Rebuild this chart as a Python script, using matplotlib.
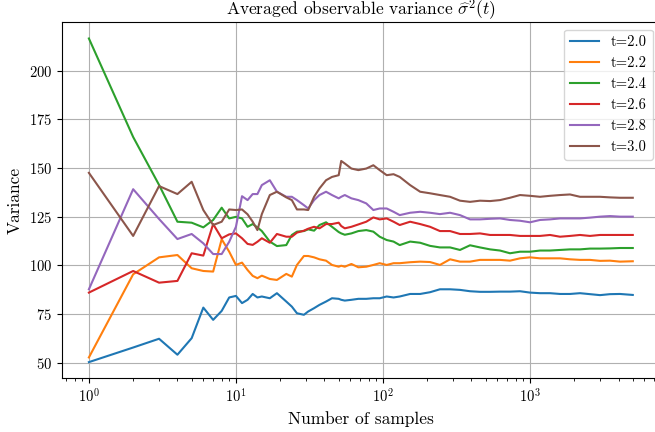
import matplotlib
matplotlib.use("Agg")
import matplotlib.pyplot as plt

plt.rcParams.update({
    "font.family": "serif",
    "font.serif": ["cmr10", "DejaVu Serif"],
    "mathtext.fontset": "cm",
    "axes.formatter.use_mathtext": True,
    "font.size": 10,
})

# number of samples (x positions, log scale)
samples = [1, 2, 3, 4, 5, 6, 7, 8, 9, 10, 11, 12, 13, 14,
           15, 17, 19, 22, 24, 26, 29, 31, 34, 37, 41, 45, 50, 52, 55, 61,
           68, 77, 86, 95, 106, 118, 130, 153, 179, 209, 244, 286, 334, 391,
           457, 535, 625, 731, 855, 1000, 1170, 1368, 1600, 1871, 2188, 2559,
           2993, 3500, 4094, 5000]

labels = ["t=2.0", "t=2.2", "t=2.4", "t=2.6", "t=2.8", "t=3.0"]

var_t20 = [50.3, 57.8, 62.3, 54.1, 62.6, 78.3, 72.0, 76.6, 83.5, 84.3, 80.6, 82.3, 85.3, 83.5,
           84.0, 83.1, 85.7, 81.4, 78.8, 75.4, 74.6, 76.3, 78.0, 79.7, 81.4, 83.1, 82.8, 82.3, 81.9, 82.3,
           82.8, 82.8, 83.1, 83.1, 84.0, 83.5, 84.0, 85.3, 85.3, 86.2, 87.7, 87.7, 87.4, 86.7,
           86.4, 86.4, 86.5, 86.5, 86.7, 86.0, 85.7, 85.7, 85.3, 85.3, 85.7, 85.2,
           84.7, 85.2, 85.3, 84.8]

var_t22 = [52.7, 95.4, 104.1, 105.3, 98.5, 97.1, 96.8, 113.4, 107.0, 100.2, 101.4, 97.6, 94.6, 93.4,
           94.7, 93.0, 92.5, 95.6, 94.2, 100.2, 104.8, 104.8, 104.1, 103.1, 102.4, 100.2, 99.3, 99.8, 99.3, 100.7,
           99.0, 99.3, 100.2, 101.1, 100.2, 101.1, 101.1, 101.6, 101.9, 101.7, 100.2, 103.1, 101.9, 101.9,
           102.8, 102.8, 102.8, 102.4, 103.6, 104.1, 103.6, 103.6, 103.6, 103.1, 102.8, 102.8,
           102.3, 102.4, 101.9, 102.1]

var_t24 = [216.5, 165.9, 141.3, 122.4, 121.9, 119.5, 123.3, 129.6, 124.1, 124.9, 124.1, 119.8, 121.2, 119.5,
           117.6, 112.2, 109.9, 110.4, 115.6, 117.3, 117.6, 118.5, 117.8, 120.7, 122.1, 119.8, 117.1, 116.4, 115.7, 116.4,
           117.6, 118.1, 117.3, 114.7, 113.0, 112.2, 110.4, 112.2, 111.6, 110.0, 109.2, 109.2, 107.9, 110.3,
           109.2, 108.2, 107.6, 106.2, 107.0, 107.0, 107.6, 107.6, 107.9, 108.2, 108.2, 108.6,
           108.6, 108.7, 108.9, 108.9]

var_t26 = [86.0, 97.1, 91.1, 92.0, 106.2, 105.0, 121.2, 113.9, 115.9, 116.4, 113.9, 111.0, 110.5, 112.1,
           113.9, 111.6, 116.1, 114.7, 114.7, 116.8, 117.8, 118.8, 119.8, 119.0, 121.2, 121.2, 121.9, 120.2, 119.0, 119.8,
           121.0, 122.4, 124.6, 123.6, 124.1, 122.4, 120.7, 122.4, 121.2, 119.8, 117.6, 117.6, 116.1, 116.1,
           116.4, 115.6, 115.6, 115.6, 115.1, 115.1, 115.1, 115.6, 114.7, 115.1, 115.6, 115.1,
           115.6, 115.6, 115.6, 115.6]

var_t28 = [87.7, 139.1, 123.8, 113.5, 116.1, 111.3, 105.8, 105.8, 112.1, 119.8, 135.5, 133.5, 136.6, 136.6,
           141.2, 143.7, 137.8, 135.2, 135.2, 133.5, 130.9, 129.2, 133.5, 136.1, 137.8, 136.1, 134.4, 135.2, 136.1, 134.4,
           133.5, 131.8, 128.4, 129.2, 129.2, 127.5, 125.8, 127.0, 127.5, 127.0, 126.3, 127.0, 125.8, 123.6,
           123.6, 123.9, 124.1, 123.3, 122.9, 122.1, 123.3, 123.6, 124.1, 124.1, 124.1, 124.5,
           125.0, 125.3, 125.0, 125.0]

var_t30 = [147.5, 115.1, 140.7, 136.6, 142.9, 128.4, 120.7, 122.4, 128.7, 128.4, 128.7, 126.2, 122.4, 118.1,
           126.3, 136.1, 137.8, 134.9, 133.5, 128.7, 128.7, 128.4, 135.2, 139.5, 143.7, 145.4, 146.3, 153.6, 152.3, 149.7,
           148.9, 149.7, 151.4, 148.9, 146.3, 146.8, 145.4, 141.2, 137.8, 137.0, 136.1, 135.2, 133.2, 132.6,
           133.2, 133.0, 133.5, 134.7, 136.1, 135.7, 135.2, 135.7, 136.1, 136.4, 135.2, 135.2,
           135.2, 134.9, 134.7, 134.7]

series = [var_t20, var_t22, var_t24, var_t26, var_t28, var_t30]

fig = plt.figure(figsize=(6.55, 4.32), dpi=100)
ax = fig.add_axes([0.0942, 0.1243, 0.9134, 0.8241])

for values, lab in zip(series, labels):
    ax.plot(samples, values, lw=1.5, label=lab)

ax.set_xscale("log")
ax.set_yticks([50, 75, 100, 125, 150, 175, 200])
ax.tick_params(labelsize=10.5)
ax.grid(True, which="major", color="#b0b0b0", lw=0.8)
ax.set_xlabel("Number of samples", fontsize=12.5)
ax.set_ylabel("Variance", fontsize=12.5)
ax.set_title(r"Averaged observable variance $\widehat{\sigma}^2(t)$",
             fontsize=12.5, pad=1.5)
ax.legend(loc="upper right", fontsize=10.5)

fig.savefig("out.png", dpi=100)
